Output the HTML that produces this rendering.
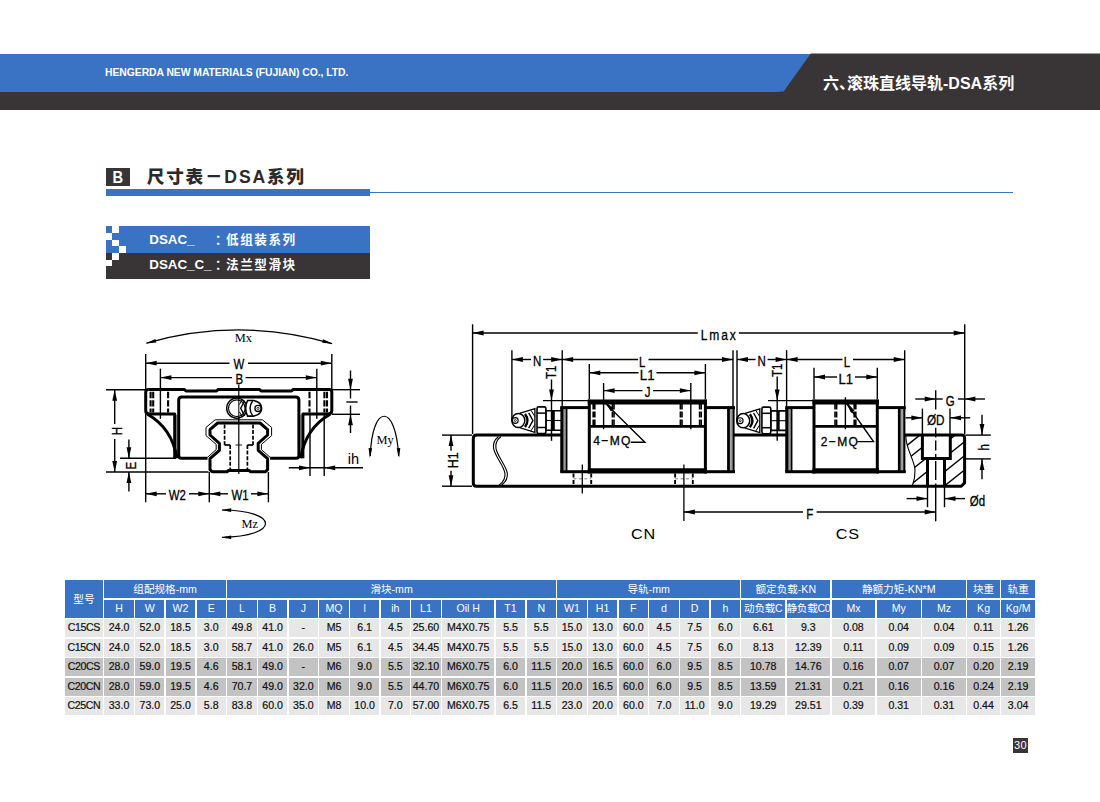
<!DOCTYPE html>
<html lang="zh-CN"><head><meta charset="utf-8"><title>尺寸表－DSA系列</title>
<style>
*{box-sizing:border-box;margin:0;padding:0}
html,body{width:1100px;height:802px;background:#fff;overflow:hidden}
body{position:relative;font-family:"Liberation Sans", "Noto Sans CJK SC", sans-serif;color:#111}
.abs{position:absolute}
#hdr-blue{left:0;top:53.6px;width:1100px;height:38.2px;background:#3a72c4}
#hdr-dark{left:0;top:91.6px;width:1100px;height:18.2px;background:#393536}
#hdr-right{left:780px;top:53px;width:320px;height:57.5px}
#company{left:105px;top:65.1px;height:16px;line-height:16px;font-size:10.4px;font-weight:bold;color:#fff;white-space:nowrap;letter-spacing:-0.06px}
#chapter{left:823px;top:71.6px;height:24px;line-height:24px;font-size:16px;font-weight:bold;color:#fff;white-space:nowrap}
#bbox{left:105.8px;top:167.6px;width:24.4px;height:18px;background:#393536;color:#fff;font-weight:bold;font-size:16.4px;line-height:18.6px;text-align:center}
#bbox span{display:inline-block;transform:scaleX(0.9)}
#title{left:146.8px;top:163.6px;height:26px;line-height:26px;font-size:17.6px;font-weight:900;color:#2b2a2a;white-space:nowrap;letter-spacing:1.8px}
#rule-thick{left:105.8px;top:189px;width:264.2px;height:6.5px;background:#3a72c4}
#rule-thin{left:370px;top:191.6px;width:643px;height:1.6px;background:#3a72c4}
#box-blue{left:105.8px;top:226.3px;width:264.2px;height:26.6px;background:#3a72c4}
#box-dark{left:105.8px;top:252.9px;width:264.2px;height:26.1px;background:#393536}
.sq{position:absolute;width:6.65px;height:6.65px;background:#fff}
.bl{position:absolute;height:20px;line-height:20px;font-size:12.6px;font-weight:bold;color:#fff;white-space:nowrap;letter-spacing:1.5px}
.bl.la{font-size:13.4px;letter-spacing:-0.05px}
#pageno{left:1012.9px;top:738px;width:15.1px;height:14.8px;background:#393536;color:#fff;font-size:11px;line-height:14.8px;text-align:center;letter-spacing:0.2px}
.c{position:absolute;white-space:nowrap;text-align:center;overflow:visible}
.h{background:#3a72c4;color:#fff;font-size:10.6px;padding-top:0.3px}
.d{color:#111;font-size:10.6px;padding-top:0;-webkit-text-stroke:0.2px #111}
.d0{letter-spacing:-0.4px}
.g1{background:#e7e7e7}
.g2{background:#c3c3c3}
svg{position:absolute;left:0;top:0}
svg text{font-family:"Liberation Sans", sans-serif;fill:#000;stroke:#000;stroke-width:0.3px}
svg text.sf{font-family:"Liberation Serif", serif;stroke:none}
svg text.ns{stroke:none}
</style></head>
<body>
<div class="abs" id="hdr-blue"></div><div class="abs" id="hdr-dark"></div><svg class="abs" id="hdr-right" width="320" height="57.5" viewBox="780 53 320 57.5" style="left:780px;top:53px"><polygon points="810.8,53.6 1100,53.6 1100,109.8 780,109.8 780,91.6 783.6,91.6" fill="#393536"/></svg><div class="abs" id="company">HENGERDA NEW MATERIALS (FUJIAN) CO., LTD.</div><div class="abs" id="chapter">六<span style="letter-spacing:-8px">、</span>滚珠直线导轨-DSA系列</div><div class="abs" id="bbox"><span>B</span></div><div class="abs" id="title">尺寸表－DSA系列</div><div class="abs" id="rule-thick"></div><div class="abs" id="rule-thin"></div><div class="abs" id="box-blue"></div><div class="abs" id="box-dark"></div><div class="sq" style="left:112.45px;top:226.30px"></div><div class="sq" style="left:105.80px;top:232.95px"></div><div class="sq" style="left:112.45px;top:239.60px"></div><div class="sq" style="left:119.10px;top:246.25px"></div><div class="sq" style="left:112.45px;top:252.90px"></div><div class="sq" style="left:105.80px;top:259.55px"></div><div class="bl la" style="left:149.3px;top:230.3px">DSAC_</div><div class="bl" style="left:212px;top:230.3px"><span style="position:relative;left:3px">：</span>低组装系列</div><div class="bl la" style="left:149.3px;top:254.5px">DSAC_C_</div><div class="bl" style="left:212px;top:254.5px"><span style="position:relative;left:3px">：</span>法兰型滑块</div><div class="abs" id="pageno">30</div>
<svg width="1100" height="802" viewBox="0 0 1100 802">
<path d="M146.5,343.2 Q238.8,316.5 332,343.6" stroke="#000" stroke-width="1.2" fill="none" />
<polygon points="145.7,343.4 155.37,338.93 156.31,342.4" fill="#000"/>
<polygon points="332.8,343.8 322.2,342.7 323.17,339.24" fill="#000"/>
<text class="sf" transform="translate(243.3 341.7) scale(1.08 1)" font-size="11.5" text-anchor="middle" >Mx</text>
<line x1="145.7" y1="354" x2="145.7" y2="389" stroke="#000" stroke-width="1.4" />
<line x1="331.8" y1="354" x2="331.8" y2="389" stroke="#000" stroke-width="1.4" />
<line x1="145.7" y1="363.2" x2="229.5" y2="363.2" stroke="#000" stroke-width="1.4" />
<line x1="248" y1="363.2" x2="331.8" y2="363.2" stroke="#000" stroke-width="1.4" />
<polygon points="145.7,363.2 156.7,360.8 156.7,365.6" fill="#000"/>
<polygon points="331.8,363.2 320.8,365.6 320.8,360.8" fill="#000"/>
<text transform="translate(238.9 368.8) scale(0.78 1)" font-size="14.7" text-anchor="middle" >W</text>
<line x1="160.4" y1="368.7" x2="160.4" y2="418.8" stroke="#000" stroke-width="1.4" />
<line x1="316.8" y1="368.7" x2="316.8" y2="418.8" stroke="#000" stroke-width="1.4" />
<line x1="160.4" y1="377.6" x2="232" y2="377.6" stroke="#000" stroke-width="1.4" />
<line x1="245.5" y1="377.6" x2="316.8" y2="377.6" stroke="#000" stroke-width="1.4" />
<polygon points="160.4,377.6 171.4,375.2 171.4,380" fill="#000"/>
<polygon points="316.8,377.6 305.8,380 305.8,375.2" fill="#000"/>
<text transform="translate(239.2 384.3) scale(0.78 1)" font-size="14.7" text-anchor="middle" >B</text>
<line x1="238.8" y1="384.5" x2="238.8" y2="474" stroke="#000" stroke-width="1.2" />
<line x1="106" y1="389.7" x2="145" y2="389.7" stroke="#000" stroke-width="1.4" />
<line x1="106" y1="472" x2="208.5" y2="472" stroke="#000" stroke-width="1.4" />
<line x1="114.7" y1="389.7" x2="114.7" y2="424" stroke="#000" stroke-width="1.4" />
<line x1="114.7" y1="439" x2="114.7" y2="472" stroke="#000" stroke-width="1.4" />
<polygon points="114.7,389.7 117.1,400.7 112.3,400.7" fill="#000"/>
<polygon points="114.7,472 112.3,461 117.1,461" fill="#000"/>
<text transform="translate(122.1 431) rotate(-90) scale(0.78 1)" font-size="14.7" text-anchor="middle" >H</text>
<line x1="120" y1="458.3" x2="176" y2="458.3" stroke="#000" stroke-width="1.4" />
<line x1="128.9" y1="439.5" x2="128.9" y2="458.3" stroke="#000" stroke-width="1.4" />
<line x1="128.9" y1="472" x2="128.9" y2="491.5" stroke="#000" stroke-width="1.4" />
<polygon points="128.9,458.3 126.5,447.3 131.3,447.3" fill="#000"/>
<polygon points="128.9,472 131.3,483 126.5,483" fill="#000"/>
<text transform="translate(136.2 465.8) rotate(-90) scale(0.78 1)" font-size="14.7" text-anchor="middle" >E</text>
<line x1="145.7" y1="414" x2="145.7" y2="502.3" stroke="#000" stroke-width="1.4" />
<line x1="209.3" y1="472" x2="209.3" y2="502.3" stroke="#000" stroke-width="1.4" />
<line x1="268.4" y1="472" x2="268.4" y2="502.3" stroke="#000" stroke-width="1.4" />
<line x1="145.7" y1="493.8" x2="166" y2="493.8" stroke="#000" stroke-width="1.4" />
<line x1="189" y1="493.8" x2="209.3" y2="493.8" stroke="#000" stroke-width="1.4" />
<line x1="209.3" y1="493.8" x2="228" y2="493.8" stroke="#000" stroke-width="1.4" />
<line x1="251" y1="493.8" x2="268.4" y2="493.8" stroke="#000" stroke-width="1.4" />
<polygon points="145.7,493.8 156.7,491.4 156.7,496.2" fill="#000"/>
<polygon points="209.3,493.8 198.3,496.2 198.3,491.4" fill="#000"/>
<polygon points="209.3,493.8 220.3,491.4 220.3,496.2" fill="#000"/>
<polygon points="268.4,493.8 257.4,496.2 257.4,491.4" fill="#000"/>
<text transform="translate(177.4 500.2) scale(0.78 1)" font-size="14.7" text-anchor="middle" >W2</text>
<text transform="translate(240 500.2) scale(0.78 1)" font-size="14.7" text-anchor="middle" >W1</text>
<line x1="332" y1="389.7" x2="360" y2="389.7" stroke="#000" stroke-width="1.4" />
<line x1="332" y1="414.3" x2="360" y2="414.3" stroke="#000" stroke-width="1.4" />
<line x1="350.5" y1="370.5" x2="350.5" y2="398.5" stroke="#000" stroke-width="1.4" />
<line x1="350.5" y1="405.5" x2="350.5" y2="433" stroke="#000" stroke-width="1.4" />
<polygon points="350.5,389.7 348.1,378.7 352.9,378.7" fill="#000"/>
<polygon points="350.5,414.3 352.9,425.3 348.1,425.3" fill="#000"/>
<line x1="346.3" y1="402" x2="357.6" y2="402" stroke="#000" stroke-width="1.4" />
<line x1="310" y1="414" x2="310" y2="476" stroke="#000" stroke-width="1.4" />
<line x1="324.2" y1="414" x2="324.2" y2="476" stroke="#000" stroke-width="1.4" />
<line x1="288.8" y1="467.8" x2="363" y2="467.8" stroke="#000" stroke-width="1.4" />
<polygon points="310,467.8 299,470.2 299,465.4" fill="#000"/>
<polygon points="324.2,467.8 335.2,465.4 335.2,470.2" fill="#000"/>
<text class="ns" transform="translate(353.5 463.6)" font-size="14.6" text-anchor="middle" >ih</text>
<path d="M370.3,456 C372,403 396,403 398.6,456" stroke="#000" stroke-width="1.2" fill="none" />
<polygon points="369.8,458 368.6,447.91 372.2,448.13" fill="#000"/>
<polygon points="399.1,458 396.7,448.13 400.3,447.91" fill="#000"/>
<text class="sf" transform="translate(385 444.2) scale(1.08 1)" font-size="11.5" text-anchor="middle" >My</text>
<path d="M222,510 C280,510.5 280,536.5 222,537.3" stroke="#000" stroke-width="1.2" fill="none" />
<polygon points="221.2,509.9 231.23,508.3 231.16,511.9" fill="#000"/>
<polygon points="221.2,537.4 231.16,535.4 231.23,539" fill="#000"/>
<text class="sf" transform="translate(249.8 527.8) scale(1.08 1)" font-size="11.5" text-anchor="middle" >Mz</text>
<path d="M148.2,389.6 H184.5 L186,391 H216.5 L218,389.6 H259.6 L261.1,391 H291.5 L293,389.6 H329.3 Q331.8,389.6 331.8,392.2 V410.5 Q331.8,413.9 328,414 H302.9 V458.3" stroke="#000" stroke-width="3.0" fill="none" stroke-linejoin="round"/>
<path d="M148.2,389.6 Q145.7,389.6 145.7,392.2 V410.5 Q145.7,413.9 149.5,414 H174.7 V458.3" stroke="#000" stroke-width="3.0" fill="none" stroke-linejoin="round"/>
<line x1="176.7" y1="415" x2="176.7" y2="457" stroke="#000" stroke-width="1.2" stroke-opacity="0.45"/>
<line x1="300.9" y1="415" x2="300.9" y2="457" stroke="#000" stroke-width="1.2" stroke-opacity="0.45"/>
<path d="M147.5,414.2 Q172,428 177,458.3" stroke="#000" stroke-width="3.0" fill="none" />
<path d="M330.1,414.2 Q305.6,428 300.6,458.3" stroke="#000" stroke-width="3.0" fill="none" />
<path d="M207.5,458.3 H181.5 Q178.7,458.3 178.7,455.5 V400 Q178.7,396.9 181.8,396.9 H295.8 Q298.9,396.9 298.9,400 V455.5 Q298.9,458.3 296.1,458.3 H270.1" stroke="#000" stroke-width="3.0" fill="none" />
<line x1="150.6" y1="391.8" x2="150.6" y2="412.6" stroke="#000" stroke-width="2.1" stroke-dasharray="6.4 2"/>
<line x1="153.2" y1="391.8" x2="153.2" y2="412.6" stroke="#000" stroke-width="2.1" stroke-dasharray="6.4 2"/>
<line x1="168.1" y1="391.8" x2="168.1" y2="412.6" stroke="#000" stroke-width="2.1" stroke-dasharray="6.4 2"/>
<line x1="309.5" y1="391.8" x2="309.5" y2="412.6" stroke="#000" stroke-width="2.1" stroke-dasharray="6.4 2"/>
<line x1="324.4" y1="391.8" x2="324.4" y2="412.6" stroke="#000" stroke-width="2.1" stroke-dasharray="6.4 2"/>
<line x1="327" y1="391.8" x2="327" y2="412.6" stroke="#000" stroke-width="2.1" stroke-dasharray="6.4 2"/>
<path d="M217.6,423 L210,429.6 V435 L219.4,443.3 V450.3 L210,458.6 V469.6 L212.2,471.8 H227 L228.5,470.4 H249.1 L250.6,471.8 H265.4 L267.6,469.6 V458.6 L258.2,450.3 V443.3 L267.6,435 V429.6 L260,423 Z" stroke="#000" stroke-width="3.0" fill="none" stroke-linejoin="round"/>
<path d="M207.3,457.5 L216.2,449.6 V444.4 L206,435.6 V427.4 L215.2,419.8 H262.4 L271.6,427.4 V435.6 L261.4,444.4 V449.6 L270.3,457.5" stroke="#000" stroke-width="1.0" fill="none" stroke-linejoin="round"/>
<line x1="224.6" y1="424.5" x2="224.6" y2="445" stroke="#000" stroke-width="1.7" stroke-dasharray="4 1.6"/>
<line x1="253" y1="424.5" x2="253" y2="445" stroke="#000" stroke-width="1.7" stroke-dasharray="4 1.6"/>
<line x1="224.6" y1="445" x2="230.2" y2="445" stroke="#000" stroke-width="1.7" />
<line x1="247.4" y1="445" x2="253" y2="445" stroke="#000" stroke-width="1.7" />
<line x1="230.2" y1="445" x2="230.2" y2="470" stroke="#000" stroke-width="1.7" stroke-dasharray="4 1.6"/>
<line x1="247.4" y1="445" x2="247.4" y2="470" stroke="#000" stroke-width="1.7" stroke-dasharray="4 1.6"/>
<line x1="235.5" y1="445" x2="242.1" y2="445" stroke="#000" stroke-width="0.9" />
<circle cx="236.8" cy="408.2" r="10.1" fill="#fff" stroke="#000" stroke-width="1.4"/>
<circle cx="236.8" cy="408.2" r="8.3" fill="none" stroke="#000" stroke-width="1.1"/>
<line x1="238.8" y1="396" x2="238.8" y2="421" stroke="#000" stroke-width="1.0" />
<path d="M247.6,400.5 L253.6,400.5 Q261.6,402.2 261.6,408.3 Q261.6,414.5 253.6,416.1 L247.6,416.1 Q243.6,408.3 247.6,400.5 Z" stroke="#000" stroke-width="1.6" fill="#fff" />
<path d="M244.6,400.7 L240.7,408.2 L244.6,415.9" stroke="#000" stroke-width="1.4" fill="none" />
<path d="M242.4,399.4 L239.4,404.6 M242.4,417 L239.4,411.8" stroke="#000" stroke-width="1.0" fill="none" />
<path d="M252.6,401 Q247.4,408.3 252.6,415.7" stroke="#000" stroke-width="1.4" fill="none" />
<circle cx="258" cy="408.4" r="3.1" fill="none" stroke="#000" stroke-width="1.3"/>
<circle cx="258" cy="408.4" r="1.1" fill="none" stroke="#000" stroke-width="0.8"/>
<line x1="472.6" y1="324.3" x2="472.6" y2="434" stroke="#000" stroke-width="1.4" />
<line x1="964.7" y1="324.3" x2="964.7" y2="434" stroke="#000" stroke-width="1.4" />
<line x1="472.6" y1="333" x2="697.8" y2="333" stroke="#000" stroke-width="1.4" />
<line x1="738.9" y1="333" x2="964.7" y2="333" stroke="#000" stroke-width="1.4" />
<polygon points="472.6,333 483.6,330.6 483.6,335.4" fill="#000"/>
<polygon points="964.7,333 953.7,335.4 953.7,330.6" fill="#000"/>
<text transform="translate(719.2 340.4) scale(0.82 1)" font-size="14.7" text-anchor="middle" letter-spacing="2.2">Lmax</text>
<path d="M561.5,435.1 H476.5 Q473.3,435.1 473.3,438.3 V483 Q473.3,486.2 476.5,486.2 H961.3 L964.6,482.9 V438 Q964.6,435.1 961.6,435.1 H905" stroke="#000" stroke-width="3.0" fill="#fff" stroke-linejoin="round"/>
<line x1="734" y1="435.1" x2="786.5" y2="435.1" stroke="#000" stroke-width="3.0" />
<path d="M498.5,436.5 C480,452 519,470 499.3,485" stroke="#000" stroke-width="1.1" fill="none" />
<path d="M500.9,436.5 C482.4,452 521.4,470 501.7,485" stroke="#000" stroke-width="1.1" fill="none" />
<line x1="442" y1="435.1" x2="472" y2="435.1" stroke="#000" stroke-width="1.4" />
<line x1="442" y1="486.2" x2="472" y2="486.2" stroke="#000" stroke-width="1.4" />
<line x1="451" y1="435.1" x2="451" y2="450.7" stroke="#000" stroke-width="1.4" />
<line x1="451" y1="470.8" x2="451" y2="486.2" stroke="#000" stroke-width="1.4" />
<polygon points="451,435.1 453.4,446.1 448.6,446.1" fill="#000"/>
<polygon points="451,486.2 448.6,475.2 453.4,475.2" fill="#000"/>
<text transform="translate(457.6 460.4) rotate(-90) scale(0.85 1)" font-size="14.7" text-anchor="middle" >H1</text>
<line x1="573.5" y1="473.6" x2="573.5" y2="485" stroke="#000" stroke-width="1.9" stroke-dasharray="4 2.3"/>
<line x1="591.2" y1="473.6" x2="591.2" y2="485" stroke="#000" stroke-width="1.9" stroke-dasharray="4 2.3"/>
<line x1="675.1" y1="473.6" x2="675.1" y2="485" stroke="#000" stroke-width="1.9" stroke-dasharray="4 2.3"/>
<line x1="692.8" y1="473.6" x2="692.8" y2="485" stroke="#000" stroke-width="1.9" stroke-dasharray="4 2.3"/>
<line x1="573.5" y1="478.8" x2="591.2" y2="478.8" stroke="#000" stroke-width="0.9" stroke-dasharray="3 2.4" stroke-opacity="0.55"/>
<line x1="675.1" y1="478.8" x2="692.8" y2="478.8" stroke="#000" stroke-width="0.9" stroke-dasharray="3 2.4" stroke-opacity="0.55"/>
<rect x="561.7" y="407.6" width="172.1" height="64" fill="#fff" stroke="none"/>
<line x1="560.2" y1="407.6" x2="589.3" y2="407.6" stroke="#000" stroke-width="3.0" />
<line x1="705.4" y1="407.6" x2="735" y2="407.6" stroke="#000" stroke-width="3.0" />
<line x1="560.2" y1="471.7" x2="589.3" y2="471.7" stroke="#000" stroke-width="3.0" />
<line x1="705.4" y1="471.7" x2="735" y2="471.7" stroke="#000" stroke-width="3.0" />
<line x1="561.9" y1="407.6" x2="561.9" y2="471.7" stroke="#000" stroke-width="3.3" />
<line x1="564.5" y1="409" x2="564.5" y2="470.4" stroke="#000" stroke-width="1.8" stroke-opacity="0.4"/>
<line x1="566.5" y1="407.6" x2="566.5" y2="471.7" stroke="#000" stroke-width="1.9" />
<line x1="728.5" y1="407.6" x2="728.5" y2="471.7" stroke="#000" stroke-width="2.8" />
<line x1="731.1" y1="409" x2="731.1" y2="470.4" stroke="#000" stroke-width="2.0" stroke-opacity="0.4"/>
<line x1="733.5" y1="407.6" x2="733.5" y2="471.7" stroke="#000" stroke-width="2.2" />
<rect x="589.3" y="401" width="116.1" height="70" fill="#fff" stroke="none"/>
<line x1="589.3" y1="399.6" x2="589.3" y2="473.4" stroke="#000" stroke-width="3.0" />
<line x1="705.4" y1="399.6" x2="705.4" y2="473.4" stroke="#000" stroke-width="3.0" />
<path d="M587.8,402 H706.9" stroke="#000" stroke-width="5.0" fill="none" />
<path d="M587.8,470.8 H706.9" stroke="#000" stroke-width="5.2" fill="none" />
<line x1="589.3" y1="426.4" x2="705.4" y2="426.4" stroke="#000" stroke-width="2.8" />
<line x1="593.2" y1="403.5" x2="593.2" y2="425.2" stroke="#000" stroke-width="1.6" stroke-dasharray="6 2"/>
<line x1="594.8" y1="403.5" x2="594.8" y2="425.2" stroke="#000" stroke-width="1.6" stroke-dasharray="6 2"/>
<line x1="612.4" y1="403.5" x2="612.4" y2="425.2" stroke="#000" stroke-width="1.6" stroke-dasharray="6 2"/>
<line x1="614" y1="403.5" x2="614" y2="425.2" stroke="#000" stroke-width="1.6" stroke-dasharray="6 2"/>
<line x1="680.4" y1="403.5" x2="680.4" y2="425.2" stroke="#000" stroke-width="1.6" stroke-dasharray="6 2"/>
<line x1="682" y1="403.5" x2="682" y2="425.2" stroke="#000" stroke-width="1.6" stroke-dasharray="6 2"/>
<line x1="699.6" y1="403.5" x2="699.6" y2="425.2" stroke="#000" stroke-width="1.6" stroke-dasharray="6 2"/>
<line x1="701.2" y1="403.5" x2="701.2" y2="425.2" stroke="#000" stroke-width="1.6" stroke-dasharray="6 2"/>
<rect x="786.7" y="407.6" width="117.9" height="64" fill="#fff" stroke="none"/>
<line x1="785.2" y1="407.6" x2="814" y2="407.6" stroke="#000" stroke-width="3.0" />
<line x1="877.3" y1="407.6" x2="905.8" y2="407.6" stroke="#000" stroke-width="3.0" />
<line x1="785.2" y1="471.7" x2="814" y2="471.7" stroke="#000" stroke-width="3.0" />
<line x1="877.3" y1="471.7" x2="905.8" y2="471.7" stroke="#000" stroke-width="3.0" />
<line x1="786.9" y1="407.6" x2="786.9" y2="471.7" stroke="#000" stroke-width="3.3" />
<line x1="789.5" y1="409" x2="789.5" y2="470.4" stroke="#000" stroke-width="1.8" stroke-opacity="0.4"/>
<line x1="791.5" y1="407.6" x2="791.5" y2="471.7" stroke="#000" stroke-width="1.9" />
<line x1="899.3" y1="407.6" x2="899.3" y2="471.7" stroke="#000" stroke-width="2.8" />
<line x1="901.9" y1="409" x2="901.9" y2="470.4" stroke="#000" stroke-width="2.0" stroke-opacity="0.4"/>
<line x1="904.3" y1="407.6" x2="904.3" y2="471.7" stroke="#000" stroke-width="2.2" />
<rect x="814" y="401" width="63.3" height="70" fill="#fff" stroke="none"/>
<line x1="814" y1="399.6" x2="814" y2="473.4" stroke="#000" stroke-width="3.0" />
<line x1="877.3" y1="399.6" x2="877.3" y2="473.4" stroke="#000" stroke-width="3.0" />
<path d="M812.5,402 H878.8" stroke="#000" stroke-width="5.0" fill="none" />
<path d="M812.5,470.8 H878.8" stroke="#000" stroke-width="5.2" fill="none" />
<line x1="814" y1="426.4" x2="877.3" y2="426.4" stroke="#000" stroke-width="2.8" />
<line x1="835" y1="403.5" x2="835" y2="425.2" stroke="#000" stroke-width="1.6" stroke-dasharray="6 2"/>
<line x1="836.6" y1="403.5" x2="836.6" y2="425.2" stroke="#000" stroke-width="1.6" stroke-dasharray="6 2"/>
<line x1="854.2" y1="403.5" x2="854.2" y2="425.2" stroke="#000" stroke-width="1.6" stroke-dasharray="6 2"/>
<line x1="855.8" y1="403.5" x2="855.8" y2="425.2" stroke="#000" stroke-width="1.6" stroke-dasharray="6 2"/>
<line x1="582.3" y1="464.6" x2="582.3" y2="493.6" stroke="#000" stroke-width="1.3" />
<line x1="683.9" y1="464.6" x2="683.9" y2="521" stroke="#000" stroke-width="1.3" />
<path d="M545.9,410.7 H561.2 V430.2 H545.9 Z" stroke="#000" stroke-width="1.6" fill="#fff" />
<line x1="542.7" y1="420.5" x2="561.2" y2="420.5" stroke="#000" stroke-width="1.1" />
<line x1="553.3" y1="410.7" x2="553.3" y2="430.2" stroke="#000" stroke-width="3.0" />
<path d="M520.2,413.2 L534.9,408.6 V432.4 L520.2,427.8 Z" stroke="#000" stroke-width="1.3" fill="#fff" />
<path d="M528.7,412.8 L532.9,420.5 L528.7,428.2" stroke="#000" stroke-width="1.4" fill="none" />
<path d="M530.9,410.2 L534.9,416.5 M530.9,430.8 L534.9,424.5" stroke="#000" stroke-width="1.0" fill="none" />
<rect x="537" y="406.9" width="8.9" height="26.6" rx="1.6" fill="#fff" stroke="#000" stroke-width="1.6"/>
<line x1="537" y1="413.1" x2="545.9" y2="413.1" stroke="#000" stroke-width="1.5" />
<line x1="537" y1="427.5" x2="545.9" y2="427.5" stroke="#000" stroke-width="1.5" />
<path d="M525,414 Q530,420.5 525,427" stroke="#000" stroke-width="2.4" fill="none" />
<ellipse cx="518.3" cy="420.5" rx="6.5" ry="7.1" fill="#fff" stroke="#000" stroke-width="1.5"/>
<circle cx="515.3" cy="420.5" r="2.9" fill="none" stroke="#000" stroke-width="1.1"/>
<circle cx="515.3" cy="420.5" r="1" fill="none" stroke="#000" stroke-width="0.8"/>
<path d="M770.8,410.9 H786.1 V430.4 H770.8 Z" stroke="#000" stroke-width="1.6" fill="#fff" />
<line x1="767.6" y1="420.7" x2="786.1" y2="420.7" stroke="#000" stroke-width="1.1" />
<line x1="778.2" y1="410.9" x2="778.2" y2="430.4" stroke="#000" stroke-width="3.0" />
<path d="M745.1,413.4 L759.8,408.8 V432.6 L745.1,428 Z" stroke="#000" stroke-width="1.3" fill="#fff" />
<path d="M753.6,413 L757.8,420.7 L753.6,428.4" stroke="#000" stroke-width="1.4" fill="none" />
<path d="M755.8,410.4 L759.8,416.7 M755.8,431 L759.8,424.7" stroke="#000" stroke-width="1.0" fill="none" />
<rect x="761.9" y="407.1" width="8.9" height="26.6" rx="1.6" fill="#fff" stroke="#000" stroke-width="1.6"/>
<line x1="761.9" y1="413.3" x2="770.8" y2="413.3" stroke="#000" stroke-width="1.5" />
<line x1="761.9" y1="427.7" x2="770.8" y2="427.7" stroke="#000" stroke-width="1.5" />
<path d="M749.9,414.2 Q754.9,420.7 749.9,427.2" stroke="#000" stroke-width="2.4" fill="none" />
<ellipse cx="743.2" cy="420.7" rx="6.5" ry="7.1" fill="#fff" stroke="#000" stroke-width="1.5"/>
<circle cx="740.2" cy="420.7" r="2.9" fill="none" stroke="#000" stroke-width="1.1"/>
<circle cx="740.2" cy="420.7" r="1" fill="none" stroke="#000" stroke-width="0.8"/>
<line x1="511.9" y1="350.2" x2="511.9" y2="420.5" stroke="#000" stroke-width="1.4" />
<line x1="562.2" y1="350.2" x2="562.2" y2="406.5" stroke="#000" stroke-width="1.4" />
<line x1="511.9" y1="359.5" x2="531.1" y2="359.5" stroke="#000" stroke-width="1.4" />
<line x1="543.1" y1="359.5" x2="562.2" y2="359.5" stroke="#000" stroke-width="1.4" />
<polygon points="511.9,359.5 522.9,357.1 522.9,361.9" fill="#000"/>
<polygon points="562.2,359.5 551.2,361.9 551.2,357.1" fill="#000"/>
<text transform="translate(537.1 366) scale(0.78 1)" font-size="14.7" text-anchor="middle" >N</text>
<line x1="737" y1="350.2" x2="737" y2="420.5" stroke="#000" stroke-width="1.4" />
<line x1="786.6" y1="350.2" x2="786.6" y2="406.5" stroke="#000" stroke-width="1.4" />
<line x1="737" y1="359.5" x2="755.6" y2="359.5" stroke="#000" stroke-width="1.4" />
<line x1="767.6" y1="359.5" x2="786.6" y2="359.5" stroke="#000" stroke-width="1.4" />
<polygon points="737,359.5 748,357.1 748,361.9" fill="#000"/>
<polygon points="786.6,359.5 775.6,361.9 775.6,357.1" fill="#000"/>
<text transform="translate(761.6 366) scale(0.78 1)" font-size="14.7" text-anchor="middle" >N</text>
<line x1="543" y1="400.6" x2="589" y2="400.6" stroke="#000" stroke-width="1.4" />
<line x1="551.5" y1="379.5" x2="551.5" y2="440.8" stroke="#000" stroke-width="1.4" />
<polygon points="551.5,400.6 549.1,389.6 553.9,389.6" fill="#000"/>
<line x1="768" y1="400.6" x2="814" y2="400.6" stroke="#000" stroke-width="1.4" />
<line x1="777.2" y1="376.5" x2="777.2" y2="440.8" stroke="#000" stroke-width="1.4" />
<polygon points="777.2,400.6 774.8,389.6 779.6,389.6" fill="#000"/>
<text transform="translate(556.2 372.2) rotate(-90) scale(0.78 1)" font-size="14.7" text-anchor="middle" >T1</text>
<text transform="translate(782 370.4) rotate(-90) scale(0.78 1)" font-size="14.7" text-anchor="middle" >T1</text>
<line x1="733" y1="350.2" x2="733" y2="406.5" stroke="#000" stroke-width="1.4" />
<line x1="562.2" y1="359.5" x2="638" y2="359.5" stroke="#000" stroke-width="1.4" />
<line x1="648.5" y1="359.5" x2="733" y2="359.5" stroke="#000" stroke-width="1.4" />
<polygon points="562.2,359.5 573.2,357.1 573.2,361.9" fill="#000"/>
<polygon points="733,359.5 722,361.9 722,357.1" fill="#000"/>
<text transform="translate(642.3 366.6) scale(0.78 1)" font-size="14.7" text-anchor="middle" >L</text>
<line x1="904.7" y1="350.2" x2="904.7" y2="406.5" stroke="#000" stroke-width="1.4" />
<line x1="786.6" y1="359.5" x2="842.5" y2="359.5" stroke="#000" stroke-width="1.4" />
<line x1="853" y1="359.5" x2="904.7" y2="359.5" stroke="#000" stroke-width="1.4" />
<polygon points="786.6,359.5 797.6,357.1 797.6,361.9" fill="#000"/>
<polygon points="904.7,359.5 893.7,361.9 893.7,357.1" fill="#000"/>
<text transform="translate(847 366.6) scale(0.78 1)" font-size="14.7" text-anchor="middle" >L</text>
<line x1="589.3" y1="364" x2="589.3" y2="399" stroke="#000" stroke-width="1.4" />
<line x1="705.4" y1="364" x2="705.4" y2="399" stroke="#000" stroke-width="1.4" />
<line x1="589.3" y1="372.8" x2="638.5" y2="372.8" stroke="#000" stroke-width="1.4" />
<line x1="656.5" y1="372.8" x2="705.4" y2="372.8" stroke="#000" stroke-width="1.4" />
<polygon points="589.3,372.8 600.3,370.4 600.3,375.2" fill="#000"/>
<polygon points="705.4,372.8 694.4,375.2 694.4,370.4" fill="#000"/>
<text transform="translate(647.2 380) scale(0.9 1)" font-size="14.7" text-anchor="middle" >L1</text>
<line x1="814" y1="367.8" x2="814" y2="399" stroke="#000" stroke-width="1.4" />
<line x1="877.3" y1="367.8" x2="877.3" y2="399" stroke="#000" stroke-width="1.4" />
<line x1="814" y1="377" x2="837" y2="377" stroke="#000" stroke-width="1.4" />
<line x1="855" y1="377" x2="877.3" y2="377" stroke="#000" stroke-width="1.4" />
<polygon points="814,377 825,374.6 825,379.4" fill="#000"/>
<polygon points="877.3,377 866.3,379.4 866.3,374.6" fill="#000"/>
<text transform="translate(845.8 384.2) scale(0.9 1)" font-size="14.7" text-anchor="middle" >L1</text>
<line x1="603.6" y1="383" x2="603.6" y2="429.3" stroke="#000" stroke-width="1.4" />
<line x1="690.8" y1="383" x2="690.8" y2="429.3" stroke="#000" stroke-width="1.4" />
<line x1="603.6" y1="390.6" x2="642.5" y2="390.6" stroke="#000" stroke-width="1.4" />
<line x1="653" y1="390.6" x2="690.8" y2="390.6" stroke="#000" stroke-width="1.4" />
<polygon points="603.6,390.6 614.6,388.2 614.6,393" fill="#000"/>
<polygon points="690.8,390.6 679.8,393 679.8,388.2" fill="#000"/>
<text transform="translate(647.5 397.2) scale(0.78 1)" font-size="14.7" text-anchor="middle" >J</text>
<line x1="845.4" y1="397.2" x2="845.4" y2="429.3" stroke="#000" stroke-width="1.4" />
<text transform="translate(593.2 445.4) scale(0.9 1)" font-size="13.4" text-anchor="start" letter-spacing="1.5">4−MQ</text>
<path d="M630.6,442.2 H644.9 L605.6,403.5" stroke="#000" stroke-width="1.4" fill="none" />
<path d="M606,403 L613.6,408.6 L611,411 Z" stroke="#000" stroke-width="0.8" fill="#000" />
<text transform="translate(820.7 445.5) scale(0.9 1)" font-size="13.4" text-anchor="start" letter-spacing="1.5">2−MQ</text>
<path d="M857.2,441.6 H873.5 L846.6,403.5" stroke="#000" stroke-width="1.4" fill="none" />
<path d="M847,403 L854,410.6 L851.2,412.4 Z" stroke="#000" stroke-width="0.8" fill="#000" />
<clipPath id="hc"><path d="M905.8,436 C906,450 914,458 915,470 Q915.3,478 912.4,485.5 H927.5 V458.7 H922.4 V436 Z M950.3,436 H964 V485.5 H944.5 V458.7 H950.3 Z"/></clipPath>
<path d="M900,422.8 L970,366.8 M900,436.9 L970,380.9 M900,451 L970,395 M900,465.1 L970,409.1 M900,479.2 L970,423.2 M900,493.3 L970,437.3 M900,507.4 L970,451.4 M900,521.5 L970,465.5 M900,535.6 L970,479.6 M900,549.7 L970,493.7 " stroke="#000" stroke-width="1.4" fill="none" clip-path="url(#hc)"/>
<path d="M905.8,436 C906,450 914,458 915,470 Q915.3,478 912.4,485.5" stroke="#000" stroke-width="1.1" fill="none" />
<path d="M922.4,435.1 V458.6 H950.3 V435.1" stroke="#000" stroke-width="3.0" fill="none" />
<path d="M927.5,458.6 V486.2 M944.5,458.6 V486.2" stroke="#000" stroke-width="3.0" fill="none" />
<line x1="935.7" y1="390.2" x2="935.7" y2="409.5" stroke="#000" stroke-width="1.4" />
<line x1="935.7" y1="427.8" x2="935.7" y2="437.4" stroke="#000" stroke-width="1.4" />
<line x1="935.7" y1="440.5" x2="935.7" y2="450.5" stroke="#000" stroke-width="1.4" />
<line x1="935.7" y1="454" x2="935.7" y2="457" stroke="#000" stroke-width="1.4" />
<line x1="935.7" y1="461" x2="935.7" y2="480" stroke="#000" stroke-width="1.4" />
<line x1="935.7" y1="483.5" x2="935.7" y2="521.2" stroke="#000" stroke-width="1.4" />
<line x1="915.3" y1="399" x2="942.7" y2="399" stroke="#000" stroke-width="1.4" />
<polygon points="935.7,399 924.7,401.4 924.7,396.6" fill="#000"/>
<line x1="957.9" y1="399" x2="985" y2="399" stroke="#000" stroke-width="1.4" />
<polygon points="964.4,399 975.4,396.6 975.4,401.4" fill="#000"/>
<text transform="translate(950.3 406.2) scale(0.78 1)" font-size="14.7" text-anchor="middle" >G</text>
<line x1="922.4" y1="408.6" x2="922.4" y2="434" stroke="#000" stroke-width="1.4" />
<line x1="950" y1="408.6" x2="950" y2="434" stroke="#000" stroke-width="1.4" />
<line x1="905.5" y1="417.8" x2="922.4" y2="417.8" stroke="#000" stroke-width="1.4" />
<polygon points="922.4,417.8 911.4,420.2 911.4,415.4" fill="#000"/>
<line x1="950" y1="417.8" x2="970.2" y2="417.8" stroke="#000" stroke-width="1.4" />
<polygon points="950,417.8 961,415.4 961,420.2" fill="#000"/>
<text transform="translate(935.7 424.6) scale(0.8 1)" font-size="14.7" text-anchor="middle" >ØD</text>
<line x1="965.5" y1="435.1" x2="990.8" y2="435.1" stroke="#000" stroke-width="1.4" />
<line x1="965.5" y1="458.9" x2="990.8" y2="458.9" stroke="#000" stroke-width="1.4" />
<line x1="982" y1="414.7" x2="982" y2="435.1" stroke="#000" stroke-width="1.4" />
<polygon points="982,435.1 979.6,424.1 984.4,424.1" fill="#000"/>
<line x1="982" y1="458.9" x2="982" y2="479.3" stroke="#000" stroke-width="1.4" />
<polygon points="982,458.9 984.4,469.9 979.6,469.9" fill="#000"/>
<text transform="translate(988.8 447.4) rotate(-90) scale(0.78 1)" font-size="14.7" text-anchor="middle" >h</text>
<line x1="927.5" y1="487" x2="927.5" y2="507.2" stroke="#000" stroke-width="1.4" />
<line x1="944.5" y1="487" x2="944.5" y2="507.2" stroke="#000" stroke-width="1.4" />
<line x1="906.6" y1="498.6" x2="927.5" y2="498.6" stroke="#000" stroke-width="1.4" />
<polygon points="927.5,498.6 916.5,501 916.5,496.2" fill="#000"/>
<line x1="944.5" y1="498.6" x2="965" y2="498.6" stroke="#000" stroke-width="1.4" />
<polygon points="944.5,498.6 955.5,496.2 955.5,501" fill="#000"/>
<text transform="translate(977.4 505.6) scale(0.78 1)" font-size="14.7" text-anchor="middle" >Ød</text>
<line x1="683.9" y1="512" x2="803" y2="512" stroke="#000" stroke-width="1.4" />
<line x1="816.6" y1="512" x2="935.7" y2="512" stroke="#000" stroke-width="1.4" />
<polygon points="683.9,512 694.9,509.6 694.9,514.4" fill="#000"/>
<polygon points="935.7,512 924.7,514.4 924.7,509.6" fill="#000"/>
<text transform="translate(809.8 518.8) scale(0.78 1)" font-size="14.7" text-anchor="middle" >F</text>
<text class="ns" transform="translate(643.6 539.2) scale(1.08 1)" font-size="15" text-anchor="middle" letter-spacing="0.9">CN</text>
<text class="ns" transform="translate(847.9 539.2) scale(1.08 1)" font-size="15" text-anchor="middle" letter-spacing="0.9">CS</text>
</svg>
<div class="c h" style="left:65.00px;top:580.40px;width:37.85px;height:37.30px;line-height:37.30px;">型号</div><div class="c h" style="left:104.35px;top:580.40px;width:121.50px;height:17.80px;line-height:17.80px;">组配规格-mm</div><div class="c h" style="left:227.35px;top:580.40px;width:328.50px;height:17.80px;line-height:17.80px;">滑块-mm</div><div class="c h" style="left:557.35px;top:580.40px;width:182.60px;height:17.80px;line-height:17.80px;">导轨-mm</div><div class="c h" style="left:741.45px;top:580.40px;width:88.70px;height:17.80px;line-height:17.80px;">额定负载-KN</div><div class="c h" style="left:831.65px;top:580.40px;width:134.20px;height:17.80px;line-height:17.80px;">静额力矩-KN*M</div><div class="c h" style="left:967.35px;top:580.40px;width:32.50px;height:17.80px;line-height:17.80px;">块重</div><div class="c h" style="left:1001.35px;top:580.40px;width:33.65px;height:17.80px;line-height:17.80px;">轨重</div><div class="c h" style="left:104.35px;top:599.90px;width:29.40px;height:17.80px;line-height:17.80px;">H</div><div class="c h" style="left:135.25px;top:599.90px;width:29.20px;height:17.80px;line-height:17.80px;">W</div><div class="c h" style="left:165.95px;top:599.90px;width:29.20px;height:17.80px;line-height:17.80px;">W2</div><div class="c h" style="left:196.65px;top:599.90px;width:29.20px;height:17.80px;line-height:17.80px;">E</div><div class="c h" style="left:227.35px;top:599.90px;width:29.20px;height:17.80px;line-height:17.80px;">L</div><div class="c h" style="left:258.05px;top:599.90px;width:29.20px;height:17.80px;line-height:17.80px;">B</div><div class="c h" style="left:288.75px;top:599.90px;width:29.20px;height:17.80px;line-height:17.80px;">J</div><div class="c h" style="left:319.45px;top:599.90px;width:29.10px;height:17.80px;line-height:17.80px;">MQ</div><div class="c h" style="left:350.05px;top:599.90px;width:29.20px;height:17.80px;line-height:17.80px;">l</div><div class="c h" style="left:380.75px;top:599.90px;width:29.10px;height:17.80px;line-height:17.80px;">ih</div><div class="c h" style="left:411.35px;top:599.90px;width:29.20px;height:17.80px;line-height:17.80px;">L1</div><div class="c h" style="left:442.05px;top:599.90px;width:52.40px;height:17.80px;line-height:17.80px;">Oil H</div><div class="c h" style="left:495.95px;top:599.90px;width:29.20px;height:17.80px;line-height:17.80px;">T1</div><div class="c h" style="left:526.65px;top:599.90px;width:29.20px;height:17.80px;line-height:17.80px;">N</div><div class="c h" style="left:557.35px;top:599.90px;width:29.20px;height:17.80px;line-height:17.80px;">W1</div><div class="c h" style="left:588.05px;top:599.90px;width:29.20px;height:17.80px;line-height:17.80px;">H1</div><div class="c h" style="left:618.75px;top:599.90px;width:29.10px;height:17.80px;line-height:17.80px;">F</div><div class="c h" style="left:649.35px;top:599.90px;width:29.20px;height:17.80px;line-height:17.80px;">d</div><div class="c h" style="left:680.05px;top:599.90px;width:29.20px;height:17.80px;line-height:17.80px;">D</div><div class="c h" style="left:710.75px;top:599.90px;width:29.20px;height:17.80px;line-height:17.80px;">h</div><div class="c h" style="left:741.45px;top:599.90px;width:43.60px;height:17.80px;line-height:17.80px;letter-spacing:-0.3px;">动负载C</div><div class="c h" style="left:786.55px;top:599.90px;width:43.60px;height:17.80px;line-height:17.80px;letter-spacing:-0.3px;">静负载C0</div><div class="c h" style="left:831.65px;top:599.90px;width:43.60px;height:17.80px;line-height:17.80px;">Mx</div><div class="c h" style="left:876.75px;top:599.90px;width:43.90px;height:17.80px;line-height:17.80px;">My</div><div class="c h" style="left:922.15px;top:599.90px;width:43.70px;height:17.80px;line-height:17.80px;">Mz</div><div class="c h" style="left:967.35px;top:599.90px;width:32.50px;height:17.80px;line-height:17.80px;">Kg</div><div class="c h" style="left:1001.35px;top:599.90px;width:33.65px;height:17.80px;line-height:17.80px;">Kg/M</div><div class="c d g1 d0" style="left:65.00px;top:619.40px;width:37.85px;height:17.80px;line-height:17.80px;">C15CS</div><div class="c d g1" style="left:104.35px;top:619.40px;width:29.40px;height:17.80px;line-height:17.80px;">24.0</div><div class="c d g1" style="left:135.25px;top:619.40px;width:29.20px;height:17.80px;line-height:17.80px;">52.0</div><div class="c d g1" style="left:165.95px;top:619.40px;width:29.20px;height:17.80px;line-height:17.80px;">18.5</div><div class="c d g1" style="left:196.65px;top:619.40px;width:29.20px;height:17.80px;line-height:17.80px;">3.0</div><div class="c d g1" style="left:227.35px;top:619.40px;width:29.20px;height:17.80px;line-height:17.80px;">49.8</div><div class="c d g1" style="left:258.05px;top:619.40px;width:29.20px;height:17.80px;line-height:17.80px;">41.0</div><div class="c d g1" style="left:288.75px;top:619.40px;width:29.20px;height:17.80px;line-height:17.80px;">-</div><div class="c d g1" style="left:319.45px;top:619.40px;width:29.10px;height:17.80px;line-height:17.80px;">M5</div><div class="c d g1" style="left:350.05px;top:619.40px;width:29.20px;height:17.80px;line-height:17.80px;">6.1</div><div class="c d g1" style="left:380.75px;top:619.40px;width:29.10px;height:17.80px;line-height:17.80px;">4.5</div><div class="c d g1" style="left:411.35px;top:619.40px;width:29.20px;height:17.80px;line-height:17.80px;">25.60</div><div class="c d g1" style="left:442.05px;top:619.40px;width:52.40px;height:17.80px;line-height:17.80px;">M4X0.75</div><div class="c d g1" style="left:495.95px;top:619.40px;width:29.20px;height:17.80px;line-height:17.80px;">5.5</div><div class="c d g1" style="left:526.65px;top:619.40px;width:29.20px;height:17.80px;line-height:17.80px;">5.5</div><div class="c d g1" style="left:557.35px;top:619.40px;width:29.20px;height:17.80px;line-height:17.80px;">15.0</div><div class="c d g1" style="left:588.05px;top:619.40px;width:29.20px;height:17.80px;line-height:17.80px;">13.0</div><div class="c d g1" style="left:618.75px;top:619.40px;width:29.10px;height:17.80px;line-height:17.80px;">60.0</div><div class="c d g1" style="left:649.35px;top:619.40px;width:29.20px;height:17.80px;line-height:17.80px;">4.5</div><div class="c d g1" style="left:680.05px;top:619.40px;width:29.20px;height:17.80px;line-height:17.80px;">7.5</div><div class="c d g1" style="left:710.75px;top:619.40px;width:29.20px;height:17.80px;line-height:17.80px;">6.0</div><div class="c d g1" style="left:741.45px;top:619.40px;width:43.60px;height:17.80px;line-height:17.80px;">6.61</div><div class="c d g1" style="left:786.55px;top:619.40px;width:43.60px;height:17.80px;line-height:17.80px;">9.3</div><div class="c d g1" style="left:831.65px;top:619.40px;width:43.60px;height:17.80px;line-height:17.80px;">0.08</div><div class="c d g1" style="left:876.75px;top:619.40px;width:43.90px;height:17.80px;line-height:17.80px;">0.04</div><div class="c d g1" style="left:922.15px;top:619.40px;width:43.70px;height:17.80px;line-height:17.80px;">0.04</div><div class="c d g1" style="left:967.35px;top:619.40px;width:32.50px;height:17.80px;line-height:17.80px;">0.11</div><div class="c d g1" style="left:1001.35px;top:619.40px;width:33.65px;height:17.80px;line-height:17.80px;">1.26</div><div class="c d g1 d0" style="left:65.00px;top:638.90px;width:37.85px;height:17.80px;line-height:17.80px;">C15CN</div><div class="c d g1" style="left:104.35px;top:638.90px;width:29.40px;height:17.80px;line-height:17.80px;">24.0</div><div class="c d g1" style="left:135.25px;top:638.90px;width:29.20px;height:17.80px;line-height:17.80px;">52.0</div><div class="c d g1" style="left:165.95px;top:638.90px;width:29.20px;height:17.80px;line-height:17.80px;">18.5</div><div class="c d g1" style="left:196.65px;top:638.90px;width:29.20px;height:17.80px;line-height:17.80px;">3.0</div><div class="c d g1" style="left:227.35px;top:638.90px;width:29.20px;height:17.80px;line-height:17.80px;">58.7</div><div class="c d g1" style="left:258.05px;top:638.90px;width:29.20px;height:17.80px;line-height:17.80px;">41.0</div><div class="c d g1" style="left:288.75px;top:638.90px;width:29.20px;height:17.80px;line-height:17.80px;">26.0</div><div class="c d g1" style="left:319.45px;top:638.90px;width:29.10px;height:17.80px;line-height:17.80px;">M5</div><div class="c d g1" style="left:350.05px;top:638.90px;width:29.20px;height:17.80px;line-height:17.80px;">6.1</div><div class="c d g1" style="left:380.75px;top:638.90px;width:29.10px;height:17.80px;line-height:17.80px;">4.5</div><div class="c d g1" style="left:411.35px;top:638.90px;width:29.20px;height:17.80px;line-height:17.80px;">34.45</div><div class="c d g1" style="left:442.05px;top:638.90px;width:52.40px;height:17.80px;line-height:17.80px;">M4X0.75</div><div class="c d g1" style="left:495.95px;top:638.90px;width:29.20px;height:17.80px;line-height:17.80px;">5.5</div><div class="c d g1" style="left:526.65px;top:638.90px;width:29.20px;height:17.80px;line-height:17.80px;">5.5</div><div class="c d g1" style="left:557.35px;top:638.90px;width:29.20px;height:17.80px;line-height:17.80px;">15.0</div><div class="c d g1" style="left:588.05px;top:638.90px;width:29.20px;height:17.80px;line-height:17.80px;">13.0</div><div class="c d g1" style="left:618.75px;top:638.90px;width:29.10px;height:17.80px;line-height:17.80px;">60.0</div><div class="c d g1" style="left:649.35px;top:638.90px;width:29.20px;height:17.80px;line-height:17.80px;">4.5</div><div class="c d g1" style="left:680.05px;top:638.90px;width:29.20px;height:17.80px;line-height:17.80px;">7.5</div><div class="c d g1" style="left:710.75px;top:638.90px;width:29.20px;height:17.80px;line-height:17.80px;">6.0</div><div class="c d g1" style="left:741.45px;top:638.90px;width:43.60px;height:17.80px;line-height:17.80px;">8.13</div><div class="c d g1" style="left:786.55px;top:638.90px;width:43.60px;height:17.80px;line-height:17.80px;">12.39</div><div class="c d g1" style="left:831.65px;top:638.90px;width:43.60px;height:17.80px;line-height:17.80px;">0.11</div><div class="c d g1" style="left:876.75px;top:638.90px;width:43.90px;height:17.80px;line-height:17.80px;">0.09</div><div class="c d g1" style="left:922.15px;top:638.90px;width:43.70px;height:17.80px;line-height:17.80px;">0.09</div><div class="c d g1" style="left:967.35px;top:638.90px;width:32.50px;height:17.80px;line-height:17.80px;">0.15</div><div class="c d g1" style="left:1001.35px;top:638.90px;width:33.65px;height:17.80px;line-height:17.80px;">1.26</div><div class="c d g2 d0" style="left:65.00px;top:658.40px;width:37.85px;height:17.80px;line-height:17.80px;">C20CS</div><div class="c d g2" style="left:104.35px;top:658.40px;width:29.40px;height:17.80px;line-height:17.80px;">28.0</div><div class="c d g2" style="left:135.25px;top:658.40px;width:29.20px;height:17.80px;line-height:17.80px;">59.0</div><div class="c d g2" style="left:165.95px;top:658.40px;width:29.20px;height:17.80px;line-height:17.80px;">19.5</div><div class="c d g2" style="left:196.65px;top:658.40px;width:29.20px;height:17.80px;line-height:17.80px;">4.6</div><div class="c d g2" style="left:227.35px;top:658.40px;width:29.20px;height:17.80px;line-height:17.80px;">58.1</div><div class="c d g2" style="left:258.05px;top:658.40px;width:29.20px;height:17.80px;line-height:17.80px;">49.0</div><div class="c d g2" style="left:288.75px;top:658.40px;width:29.20px;height:17.80px;line-height:17.80px;">-</div><div class="c d g2" style="left:319.45px;top:658.40px;width:29.10px;height:17.80px;line-height:17.80px;">M6</div><div class="c d g2" style="left:350.05px;top:658.40px;width:29.20px;height:17.80px;line-height:17.80px;">9.0</div><div class="c d g2" style="left:380.75px;top:658.40px;width:29.10px;height:17.80px;line-height:17.80px;">5.5</div><div class="c d g2" style="left:411.35px;top:658.40px;width:29.20px;height:17.80px;line-height:17.80px;">32.10</div><div class="c d g2" style="left:442.05px;top:658.40px;width:52.40px;height:17.80px;line-height:17.80px;">M6X0.75</div><div class="c d g2" style="left:495.95px;top:658.40px;width:29.20px;height:17.80px;line-height:17.80px;">6.0</div><div class="c d g2" style="left:526.65px;top:658.40px;width:29.20px;height:17.80px;line-height:17.80px;">11.5</div><div class="c d g2" style="left:557.35px;top:658.40px;width:29.20px;height:17.80px;line-height:17.80px;">20.0</div><div class="c d g2" style="left:588.05px;top:658.40px;width:29.20px;height:17.80px;line-height:17.80px;">16.5</div><div class="c d g2" style="left:618.75px;top:658.40px;width:29.10px;height:17.80px;line-height:17.80px;">60.0</div><div class="c d g2" style="left:649.35px;top:658.40px;width:29.20px;height:17.80px;line-height:17.80px;">6.0</div><div class="c d g2" style="left:680.05px;top:658.40px;width:29.20px;height:17.80px;line-height:17.80px;">9.5</div><div class="c d g2" style="left:710.75px;top:658.40px;width:29.20px;height:17.80px;line-height:17.80px;">8.5</div><div class="c d g2" style="left:741.45px;top:658.40px;width:43.60px;height:17.80px;line-height:17.80px;">10.78</div><div class="c d g2" style="left:786.55px;top:658.40px;width:43.60px;height:17.80px;line-height:17.80px;">14.76</div><div class="c d g2" style="left:831.65px;top:658.40px;width:43.60px;height:17.80px;line-height:17.80px;">0.16</div><div class="c d g2" style="left:876.75px;top:658.40px;width:43.90px;height:17.80px;line-height:17.80px;">0.07</div><div class="c d g2" style="left:922.15px;top:658.40px;width:43.70px;height:17.80px;line-height:17.80px;">0.07</div><div class="c d g2" style="left:967.35px;top:658.40px;width:32.50px;height:17.80px;line-height:17.80px;">0.20</div><div class="c d g2" style="left:1001.35px;top:658.40px;width:33.65px;height:17.80px;line-height:17.80px;">2.19</div><div class="c d g2 d0" style="left:65.00px;top:677.90px;width:37.85px;height:17.80px;line-height:17.80px;">C20CN</div><div class="c d g2" style="left:104.35px;top:677.90px;width:29.40px;height:17.80px;line-height:17.80px;">28.0</div><div class="c d g2" style="left:135.25px;top:677.90px;width:29.20px;height:17.80px;line-height:17.80px;">59.0</div><div class="c d g2" style="left:165.95px;top:677.90px;width:29.20px;height:17.80px;line-height:17.80px;">19.5</div><div class="c d g2" style="left:196.65px;top:677.90px;width:29.20px;height:17.80px;line-height:17.80px;">4.6</div><div class="c d g2" style="left:227.35px;top:677.90px;width:29.20px;height:17.80px;line-height:17.80px;">70.7</div><div class="c d g2" style="left:258.05px;top:677.90px;width:29.20px;height:17.80px;line-height:17.80px;">49.0</div><div class="c d g2" style="left:288.75px;top:677.90px;width:29.20px;height:17.80px;line-height:17.80px;">32.0</div><div class="c d g2" style="left:319.45px;top:677.90px;width:29.10px;height:17.80px;line-height:17.80px;">M6</div><div class="c d g2" style="left:350.05px;top:677.90px;width:29.20px;height:17.80px;line-height:17.80px;">9.0</div><div class="c d g2" style="left:380.75px;top:677.90px;width:29.10px;height:17.80px;line-height:17.80px;">5.5</div><div class="c d g2" style="left:411.35px;top:677.90px;width:29.20px;height:17.80px;line-height:17.80px;">44.70</div><div class="c d g2" style="left:442.05px;top:677.90px;width:52.40px;height:17.80px;line-height:17.80px;">M6X0.75</div><div class="c d g2" style="left:495.95px;top:677.90px;width:29.20px;height:17.80px;line-height:17.80px;">6.0</div><div class="c d g2" style="left:526.65px;top:677.90px;width:29.20px;height:17.80px;line-height:17.80px;">11.5</div><div class="c d g2" style="left:557.35px;top:677.90px;width:29.20px;height:17.80px;line-height:17.80px;">20.0</div><div class="c d g2" style="left:588.05px;top:677.90px;width:29.20px;height:17.80px;line-height:17.80px;">16.5</div><div class="c d g2" style="left:618.75px;top:677.90px;width:29.10px;height:17.80px;line-height:17.80px;">60.0</div><div class="c d g2" style="left:649.35px;top:677.90px;width:29.20px;height:17.80px;line-height:17.80px;">6.0</div><div class="c d g2" style="left:680.05px;top:677.90px;width:29.20px;height:17.80px;line-height:17.80px;">9.5</div><div class="c d g2" style="left:710.75px;top:677.90px;width:29.20px;height:17.80px;line-height:17.80px;">8.5</div><div class="c d g2" style="left:741.45px;top:677.90px;width:43.60px;height:17.80px;line-height:17.80px;">13.59</div><div class="c d g2" style="left:786.55px;top:677.90px;width:43.60px;height:17.80px;line-height:17.80px;">21.31</div><div class="c d g2" style="left:831.65px;top:677.90px;width:43.60px;height:17.80px;line-height:17.80px;">0.21</div><div class="c d g2" style="left:876.75px;top:677.90px;width:43.90px;height:17.80px;line-height:17.80px;">0.16</div><div class="c d g2" style="left:922.15px;top:677.90px;width:43.70px;height:17.80px;line-height:17.80px;">0.16</div><div class="c d g2" style="left:967.35px;top:677.90px;width:32.50px;height:17.80px;line-height:17.80px;">0.24</div><div class="c d g2" style="left:1001.35px;top:677.90px;width:33.65px;height:17.80px;line-height:17.80px;">2.19</div><div class="c d g1 d0" style="left:65.00px;top:697.40px;width:37.85px;height:17.80px;line-height:17.80px;">C25CN</div><div class="c d g1" style="left:104.35px;top:697.40px;width:29.40px;height:17.80px;line-height:17.80px;">33.0</div><div class="c d g1" style="left:135.25px;top:697.40px;width:29.20px;height:17.80px;line-height:17.80px;">73.0</div><div class="c d g1" style="left:165.95px;top:697.40px;width:29.20px;height:17.80px;line-height:17.80px;">25.0</div><div class="c d g1" style="left:196.65px;top:697.40px;width:29.20px;height:17.80px;line-height:17.80px;">5.8</div><div class="c d g1" style="left:227.35px;top:697.40px;width:29.20px;height:17.80px;line-height:17.80px;">83.8</div><div class="c d g1" style="left:258.05px;top:697.40px;width:29.20px;height:17.80px;line-height:17.80px;">60.0</div><div class="c d g1" style="left:288.75px;top:697.40px;width:29.20px;height:17.80px;line-height:17.80px;">35.0</div><div class="c d g1" style="left:319.45px;top:697.40px;width:29.10px;height:17.80px;line-height:17.80px;">M8</div><div class="c d g1" style="left:350.05px;top:697.40px;width:29.20px;height:17.80px;line-height:17.80px;">10.0</div><div class="c d g1" style="left:380.75px;top:697.40px;width:29.10px;height:17.80px;line-height:17.80px;">7.0</div><div class="c d g1" style="left:411.35px;top:697.40px;width:29.20px;height:17.80px;line-height:17.80px;">57.00</div><div class="c d g1" style="left:442.05px;top:697.40px;width:52.40px;height:17.80px;line-height:17.80px;">M6X0.75</div><div class="c d g1" style="left:495.95px;top:697.40px;width:29.20px;height:17.80px;line-height:17.80px;">6.5</div><div class="c d g1" style="left:526.65px;top:697.40px;width:29.20px;height:17.80px;line-height:17.80px;">11.5</div><div class="c d g1" style="left:557.35px;top:697.40px;width:29.20px;height:17.80px;line-height:17.80px;">23.0</div><div class="c d g1" style="left:588.05px;top:697.40px;width:29.20px;height:17.80px;line-height:17.80px;">20.0</div><div class="c d g1" style="left:618.75px;top:697.40px;width:29.10px;height:17.80px;line-height:17.80px;">60.0</div><div class="c d g1" style="left:649.35px;top:697.40px;width:29.20px;height:17.80px;line-height:17.80px;">7.0</div><div class="c d g1" style="left:680.05px;top:697.40px;width:29.20px;height:17.80px;line-height:17.80px;">11.0</div><div class="c d g1" style="left:710.75px;top:697.40px;width:29.20px;height:17.80px;line-height:17.80px;">9.0</div><div class="c d g1" style="left:741.45px;top:697.40px;width:43.60px;height:17.80px;line-height:17.80px;">19.29</div><div class="c d g1" style="left:786.55px;top:697.40px;width:43.60px;height:17.80px;line-height:17.80px;">29.51</div><div class="c d g1" style="left:831.65px;top:697.40px;width:43.60px;height:17.80px;line-height:17.80px;">0.39</div><div class="c d g1" style="left:876.75px;top:697.40px;width:43.90px;height:17.80px;line-height:17.80px;">0.31</div><div class="c d g1" style="left:922.15px;top:697.40px;width:43.70px;height:17.80px;line-height:17.80px;">0.31</div><div class="c d g1" style="left:967.35px;top:697.40px;width:32.50px;height:17.80px;line-height:17.80px;">0.44</div><div class="c d g1" style="left:1001.35px;top:697.40px;width:33.65px;height:17.80px;line-height:17.80px;">3.04</div>
</body></html>
